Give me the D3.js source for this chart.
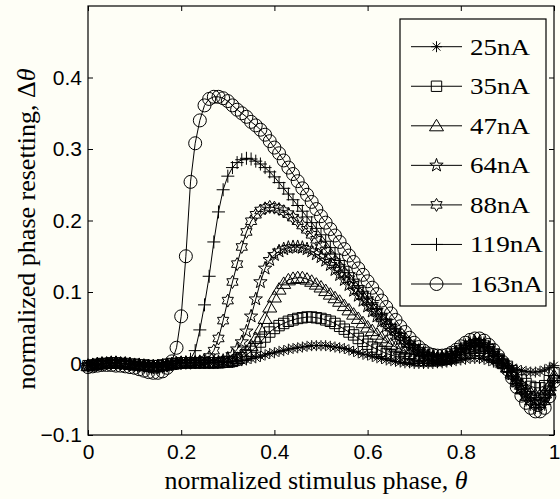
<!DOCTYPE html>
<html><head><meta charset="utf-8">
<script src="https://cdn.jsdelivr.net/npm/d3@7"></script>
<style>html,body{margin:0;padding:0;background:#fefef6;} svg{display:block}</style>
</head><body>
<svg id="chart" width="560" height="499"></svg>
<script>
const phase = [0,0.01,0.02,0.03,0.04,0.05,0.06,0.07,0.08,0.09,
0.10,0.11,0.12,0.13,0.14,0.15,0.16,0.17,0.18,0.19,
0.20,0.21,0.22,0.23,0.24,0.25,0.26,0.27,0.28,0.29,
0.30,0.31,0.32,0.33,0.34,0.35,0.36,0.37,0.38,0.39,
0.40,0.41,0.42,0.43,0.44,0.45,0.46,0.47,0.48,0.49,
0.50,0.51,0.52,0.53,0.54,0.55,0.56,0.57,0.58,0.59,
0.60,0.61,0.62,0.63,0.64,0.65,0.66,0.67,0.68,0.69,
0.70,0.71,0.72,0.73,0.74,0.75,0.76,0.77,0.78,0.79,
0.80,0.81,0.82,0.83,0.84,0.85,0.86,0.87,0.88,0.89,
0.90,0.91,0.92,0.93,0.94,0.95,0.96,0.97,0.98,0.99,1.00];

const d25 = [-0.002,-0.001,0,0,0.001,0.001,0.001,0,0,0,
-0.001,-0.001,-0.002,-0.002,-0.002,-0.002,-0.002,-0.001,0,0,
0.001,0.001,0.001,0.001,0.001,0.002,0.002,0.002,0.002,0.002,
0.002,0.002,0.003,0.004,0.005,0.007,0.008,0.010,0.012,0.014,
0.015,0.017,0.018,0.020,0.021,0.022,0.023,0.024,0.025,0.025,
0.025,0.025,0.024,0.023,0.022,0.021,0.019,0.017,0.015,0.013,
0.012,0.010,0.008,0.007,0.005,0.004,0.003,0.002,0.001,0.001,
0,0,0,0,0,0.001,0.001,0.002,0.003,0.004,
0.005,0.006,0.007,0.007,0.007,0.006,0.004,0.002,0,-0.002,
-0.004,-0.006,-0.008,-0.010,-0.011,-0.012,-0.012,-0.011,-0.009,-0.006,
-0.003];

const d35 = [-0.003,-0.002,-0.001,0,0,0.001,0.001,0,0,-0.001,
-0.001,-0.002,-0.002,-0.003,-0.003,-0.003,-0.002,-0.001,0,0,
0.001,0.001,0.001,0.001,0.001,0.001,0.001,0.001,0.001,0.002,
0.002,0.003,0.005,0.008,0.012,0.017,0.023,0.030,0.037,0.044,
0.049,0.053,0.056,0.059,0.061,0.063,0.064,0.065,0.065,0.064,
0.063,0.061,0.059,0.056,0.052,0.048,0.044,0.040,0.035,0.031,
0.027,0.023,0.020,0.017,0.014,0.012,0.010,0.008,0.007,0.006,
0.005,0.004,0.004,0.004,0.004,0.004,0.005,0.006,0.007,0.009,
0.012,0.014,0.016,0.018,0.018,0.016,0.013,0.009,0.005,0.000,
-0.004,-0.010,-0.016,-0.023,-0.028,-0.032,-0.034,-0.034,-0.031,-0.024,
-0.013];

const d47 = [-0.003,-0.002,-0.001,0,0,0.001,0.001,0,0,-0.001,
-0.002,-0.002,-0.003,-0.003,-0.004,-0.004,-0.003,-0.002,-0.001,0,
0.001,0.001,0.001,0.001,0.001,0.001,0.001,0.001,0.001,0.002,
0.002,0.004,0.007,0.011,0.017,0.025,0.035,0.048,0.063,0.079,
0.093,0.104,0.112,0.117,0.119,0.120,0.120,0.118,0.115,0.111,
0.107,0.102,0.097,0.092,0.087,0.081,0.075,0.069,0.063,0.057,
0.051,0.046,0.041,0.036,0.031,0.027,0.023,0.020,0.017,0.014,
0.012,0.010,0.008,0.007,0.006,0.006,0.006,0.007,0.009,0.012,
0.015,0.019,0.021,0.023,0.023,0.021,0.017,0.012,0.007,0.001,
-0.005,-0.013,-0.021,-0.029,-0.036,-0.041,-0.044,-0.044,-0.041,-0.031,
-0.017];

const d64 = [-0.003,-0.002,-0.001,0,0,0.001,0.001,0,0,-0.001,
-0.002,-0.002,-0.003,-0.004,-0.004,-0.004,-0.003,-0.002,-0.001,0,
0.001,0.001,0.001,0.001,0.001,0.001,0.001,0.001,0.002,0.004,
0.007,0.012,0.020,0.030,0.045,0.066,0.090,0.114,0.133,0.145,
0.152,0.157,0.160,0.162,0.163,0.163,0.162,0.160,0.157,0.153,
0.149,0.144,0.138,0.131,0.124,0.117,0.110,0.102,0.095,0.088,
0.080,0.073,0.066,0.059,0.052,0.046,0.040,0.034,0.029,0.024,
0.020,0.016,0.013,0.010,0.008,0.007,0.007,0.008,0.010,0.014,
0.018,0.022,0.025,0.026,0.026,0.024,0.020,0.014,0.008,0.001,
-0.006,-0.015,-0.025,-0.034,-0.042,-0.048,-0.051,-0.051,-0.047,-0.036,
-0.020];

const d88 = [-0.003,-0.002,-0.001,0,0,0.001,0.001,0,0,-0.001,
-0.002,-0.003,-0.003,-0.004,-0.005,-0.005,-0.004,-0.003,-0.001,0,
0.001,0.001,0.001,0.002,0.003,0.005,0.009,0.018,0.035,0.060,
0.088,0.114,0.139,0.163,0.184,0.199,0.208,0.214,0.217,0.219,
0.218,0.216,0.213,0.209,0.204,0.199,0.193,0.187,0.180,0.173,
0.165,0.158,0.150,0.142,0.134,0.126,0.118,0.110,0.102,0.094,
0.086,0.078,0.071,0.063,0.056,0.050,0.044,0.038,0.032,0.027,
0.022,0.018,0.014,0.011,0.009,0.008,0.008,0.009,0.012,0.016,
0.020,0.024,0.027,0.029,0.029,0.027,0.022,0.016,0.009,0.001,
-0.007,-0.017,-0.028,-0.038,-0.047,-0.053,-0.057,-0.057,-0.053,-0.040,
-0.022];

const d119 = [-0.003,-0.002,-0.001,0,0,0.001,0.001,0,0,-0.001,
-0.002,-0.003,-0.004,-0.005,-0.006,-0.006,-0.005,-0.003,-0.001,0,
0.001,0.002,0.006,0.018,0.047,0.082,0.122,0.170,0.212,0.243,
0.262,0.274,0.281,0.285,0.287,0.286,0.283,0.279,0.274,0.268,
0.261,0.253,0.245,0.237,0.229,0.221,0.213,0.205,0.197,0.189,
0.180,0.171,0.162,0.153,0.144,0.136,0.127,0.118,0.109,0.101,
0.093,0.085,0.077,0.069,0.062,0.055,0.048,0.042,0.036,0.030,
0.025,0.020,0.016,0.013,0.011,0.010,0.010,0.011,0.014,0.017,
0.022,0.026,0.030,0.032,0.032,0.029,0.024,0.017,0.010,0.002,
-0.007,-0.018,-0.030,-0.041,-0.051,-0.057,-0.062,-0.062,-0.057,-0.043,
-0.024];

const d163 = [-0.005,-0.004,-0.003,-0.002,-0.002,-0.002,-0.003,-0.003,-0.004,-0.005,
-0.006,-0.008,-0.010,-0.012,-0.013,-0.013,-0.011,-0.006,0.003,0.022,
0.066,0.150,0.254,0.308,0.340,0.361,0.370,0.373,0.373,0.371,
0.367,0.361,0.355,0.350,0.345,0.338,0.333,0.327,0.320,0.311,
0.302,0.294,0.284,0.274,0.265,0.255,0.245,0.236,0.226,0.216,
0.206,0.197,0.188,0.179,0.170,0.160,0.151,0.142,0.133,0.124,
0.115,0.106,0.097,0.088,0.079,0.070,0.061,0.052,0.044,0.036,
0.029,0.023,0.018,0.014,0.012,0.011,0.011,0.012,0.015,0.019,
0.024,0.029,0.033,0.035,0.035,0.032,0.026,0.019,0.011,0.002,
-0.008,-0.020,-0.033,-0.045,-0.055,-0.062,-0.067,-0.067,-0.062,-0.046,
-0.025];

const seriesNames = ["25nA","35nA","47nA","64nA","88nA","119nA","163nA"];
const seriesValues = [d25, d35, d47, d64, d88, d119, d163];
const markerTypes = ["asterisk","square","triangle","pentagram","hexagram","plus","circle"];
const xTicks = [0, 0.2, 0.4, 0.6, 0.8, 1];
const yTicks = [-0.1, 0, 0.1, 0.2, 0.3, 0.4];
const xLabel = "normalized stimulus phase, ";
const yLabel = "normalized phase resetting, ";

const svg = d3.select("#chart");
const L = 88, R = 554, T = 6, B = 435;
const x = d3.scaleLinear().domain([0, 1]).range([L, R]);
const y = d3.scaleLinear().domain([-0.1, 0.5]).range([B, T]);

svg.append("rect").attr("width", 560).attr("height", 499).attr("fill", "#fefef6");

function starPath(n, Ro, Ri) {
  const p = [];
  for (let k = 0; k < 2 * n; k++) {
    const a = -Math.PI / 2 + k * Math.PI / n;
    const r = k % 2 === 0 ? Ro : Ri;
    p.push((r * Math.cos(a)).toFixed(2) + "," + (r * Math.sin(a)).toFixed(2));
  }
  return "M" + p.join("L") + "Z";
}
function markerPath(t) {
  switch (t) {
    case "circle": { const r = 6.5; return `M${r},0A${r},${r} 0 1,1 ${-r},0A${r},${r} 0 1,1 ${r},0Z`; }
    case "square": { const s = 5.2; return `M${-s},${-s}H${s}V${s}H${-s}Z`; }
    case "triangle": return "M0,-6.5L7,5H-7Z";
    case "plus": return "M-6.5,0H6.5M0,-6.5V6.5";
    case "asterisk": { const r = 5.5, d = 3.9; return `M${-r},0H${r}M0,${-r}V${r}M${-d},${-d}L${d},${d}M${-d},${d}L${d},${-d}`; }
    case "pentagram": return starPath(5, 7, 2.8);
    case "hexagram": return starPath(6, 6.5, 3.75);
  }
}

const fmt = d => (Math.round(d * 10) / 10).toString().replace("-", "\u2212");

// axes (ticks inward)
const gx = svg.append("g").attr("transform", `translate(0,${B})`)
  .call(d3.axisBottom(x).tickValues(xTicks).tickFormat(fmt).tickSizeInner(-5).tickSizeOuter(0).tickPadding(9));
const gxt = svg.append("g").attr("transform", `translate(0,${T})`)
  .call(d3.axisTop(x).tickValues(xTicks).tickFormat("").tickSizeInner(-5).tickSizeOuter(0));
const gy = svg.append("g").attr("transform", `translate(${L},0)`)
  .call(d3.axisLeft(y).tickValues(yTicks).tickFormat(fmt).tickSizeInner(-5).tickSizeOuter(0).tickPadding(6));
const gyr = svg.append("g").attr("transform", `translate(${R},0)`)
  .call(d3.axisRight(y).tickValues(yTicks).tickFormat("").tickSizeInner(-5).tickSizeOuter(0));
[gx, gxt, gy, gyr].forEach(g => {
  g.select(".domain").remove();
  g.selectAll("line").attr("stroke", "#000").attr("stroke-width", 1);
  g.selectAll("text").attr("fill", "#000").style("font-family", "'Liberation Sans', Arial, sans-serif").style("font-size", "21px");
});

// data
const line = d3.line().x((d, i) => x(phase[i])).y(d => y(d));
seriesValues.forEach((vals, s) => {
  const g = svg.append("g");
  g.append("path").attr("d", line(vals)).attr("fill", "none").attr("stroke", "#000").attr("stroke-width", 1);
  g.selectAll("path.m").data(vals).enter().append("path").attr("class", "m")
    .attr("d", markerPath(markerTypes[s]))
    .attr("transform", (d, i) => `translate(${x(phase[i])},${y(d)})`)
    .attr("fill", "none").attr("stroke", "#000").attr("stroke-width", 1);
});

// box
svg.append("rect").attr("x", L).attr("y", T).attr("width", R - L).attr("height", B - T)
  .attr("fill", "none").attr("stroke", "#000").attr("stroke-width", 1.2);

// legend
const lg = svg.append("g");
lg.append("rect").attr("x", 400).attr("y", 19).attr("width", 146).attr("height", 287)
  .attr("fill", "#fefef6").attr("stroke", "#000").attr("stroke-width", 1.2);
seriesNames.forEach((name, s) => {
  const cy = 46.7 + s * 39.55;
  lg.append("line").attr("x1", 411).attr("x2", 462).attr("y1", cy).attr("y2", cy).attr("stroke", "#000").attr("stroke-width", 1);
  lg.append("path").attr("d", markerPath(markerTypes[s])).attr("transform", `translate(436.5,${cy})`)
    .attr("fill", "none").attr("stroke", "#000").attr("stroke-width", 1);
  lg.append("text").attr("x", 470).attr("y", cy + 8).text(name)
    .attr("textLength", name.length === 4 ? 60 : 73).attr("lengthAdjust", "spacingAndGlyphs")
    .style("font-family", "'Liberation Serif', 'Times New Roman', serif").style("font-size", "24px").attr("fill", "#000");
});

// axis labels
const xl = svg.append("text").attr("x", 316).attr("y", 489).attr("text-anchor", "middle")
  .style("font-family", "'Liberation Serif', 'Times New Roman', serif").style("font-size", "26px").attr("fill", "#000");
xl.append("tspan").text(xLabel);
xl.append("tspan").style("font-style", "italic").text("\u03B8");

const yl = svg.append("text").attr("transform", "translate(35,229) rotate(-90)").attr("text-anchor", "middle")
  .style("font-family", "'Liberation Serif', 'Times New Roman', serif").style("font-size", "26px").attr("fill", "#000");
yl.append("tspan").text(yLabel + "\u0394");
yl.append("tspan").style("font-style", "italic").text("\u03B8");
</script>
</body></html>
